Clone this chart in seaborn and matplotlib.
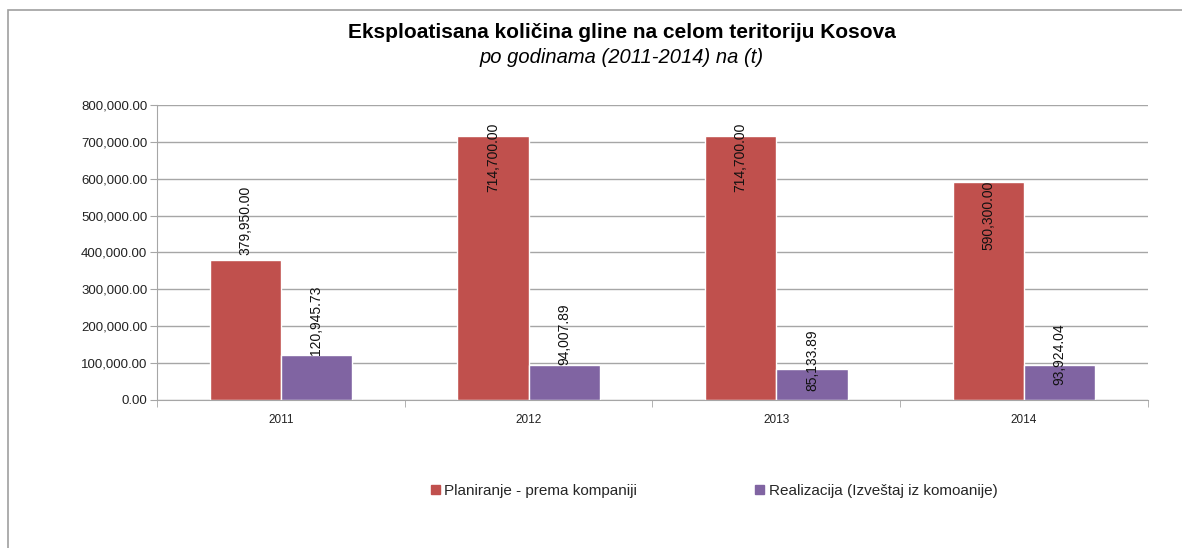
import numpy as np
import pandas as pd
import seaborn as sns
import matplotlib.pyplot as plt
from matplotlib.patches import Rectangle
from matplotlib.ticker import FuncFormatter

# Data
years = ["2011", "2012", "2013", "2014"]
planirano = [379950.00, 714700.00, 714700.00, 590300.00]
realizovano = [120945.73, 94007.89, 85133.89, 93924.04]
series_names = ["Planiranje - prema kompaniji", "Realizacija (Izveštaj iz komoanije)"]

df = pd.DataFrame({
    "godina": years * 2,
    "vrednost": planirano + realizovano,
    "serija": [series_names[0]] * 4 + [series_names[1]] * 4,
})

sns.set_style("white")
plt.rcParams["font.family"] = ["Liberation Sans", "DejaVu Sans"]

fig = plt.figure(figsize=(11.82, 5.48), dpi=100)
ax = fig.add_axes([0.1328, 0.2701, 0.9712 - 0.1328, 0.8084 - 0.2701])

palette = {series_names[0]: "#C0504D", series_names[1]: "#8064A2"}
sns.barplot(data=df, x="godina", y="vrednost", hue="serija", palette=palette,
            width=0.575, saturation=1, ax=ax, legend=True)

ax.set_ylim(0, 800000)
ax.set_xlim(-0.5, 3.5)
ax.set_yticks(np.arange(0, 800001, 100000))
ax.yaxis.set_major_formatter(FuncFormatter(lambda v, p: f"{v:,.2f}"))
ax.grid(axis="y", color="#A6A6A6", linewidth=1)
ax.set_axisbelow(True)
ax.set_xlabel("")
ax.set_ylabel("")
for s in ["top", "right"]:
    ax.spines[s].set_visible(False)
ax.spines["left"].set_color("#A6A6A6")
ax.spines["bottom"].set_color("#A6A6A6")
ax.tick_params(axis="y", labelsize=9.5, length=5, color="#A6A6A6", left=True,
               pad=2, labelcolor="#222222")
ax.tick_params(axis="x", which="major", labelsize=8.5, length=0, pad=10,
               labelcolor="#222222")
ax.set_xticks(np.arange(-0.5, 4, 1), minor=True)
ax.tick_params(axis="x", which="minor", length=5, color="#A6A6A6", bottom=True)

# value labels, rotated like the original (offsets in points from the bar top)
offsets = [[3.5, -40, -40, -49], [0, 0, -16, -14]]
for i, cont in enumerate(ax.containers):
    vals = planirano if i == 0 else realizovano
    for j, bar in enumerate(cont):
        xc = bar.get_x() + bar.get_width() / 2
        ax.annotate(f"{vals[j]:,.2f}", (xc, vals[j]), xytext=(0, offsets[i][j]),
                    textcoords="offset points", rotation=90, ha="center",
                    va="bottom", fontsize=10, color="#111111")

ax.get_legend().remove()
handles = [Rectangle((0, 0), 1, 1, color=palette[n]) for n in series_names]
fig.legend(handles, series_names, loc="center", bbox_to_anchor=(0.604, 0.104),
           ncol=2, frameon=False, fontsize=11, handlelength=0.6, handleheight=0.6,
           handletextpad=0.3, columnspacing=7.7)

fig.text(0.526, 0.94, "Eksploatisana količina gline na celom teritoriju Kosova",
         ha="center", va="center", fontsize=15, fontweight="bold", color="black")
fig.text(0.526, 0.895, "po godinama (2011-2014) na (t)", ha="center", va="center",
         fontsize=14.5, style="italic", color="black")

# chart area border (left and top edges visible)
fig.patches.append(Rectangle((8 / 1182, -0.1), 1.2, 1 - 10 / 548 + 0.1,
                             transform=fig.transFigure, fill=False,
                             edgecolor="#A0A0A0", linewidth=1.2))

fig.savefig("out.png", dpi=100)
